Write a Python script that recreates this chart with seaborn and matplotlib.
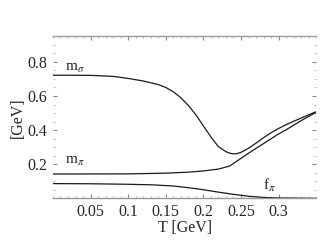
import matplotlib
matplotlib.use("Agg")
import matplotlib.pyplot as plt
import seaborn as sns
import numpy as np
import pandas as pd
from matplotlib.ticker import MultipleLocator

# --- data ---
t_sigma = [0.0, 0.05, 0.08, 0.10, 0.12, 0.14, 0.15, 0.16, 0.17, 0.18, 0.19, 0.20, 0.21, 0.22, 0.23, 0.235, 0.24, 0.245, 0.25, 0.26, 0.27, 0.28, 0.29, 0.30, 0.31, 0.32, 0.33, 0.34, 0.35]
m_sigma = [0.722, 0.721, 0.715, 0.703, 0.688, 0.667, 0.650, 0.625, 0.590, 0.545, 0.490, 0.425, 0.360, 0.303, 0.274, 0.265, 0.261, 0.263, 0.270, 0.294, 0.324, 0.356, 0.385, 0.410, 0.432, 0.452, 0.471, 0.490, 0.508]

t_pi = [0.0, 0.10, 0.15, 0.18, 0.20, 0.22, 0.235, 0.25, 0.26, 0.276, 0.29, 0.30, 0.31, 0.33, 0.35]
m_pi = [0.143, 0.144, 0.148, 0.154, 0.161, 0.172, 0.19, 0.235, 0.265, 0.31, 0.35, 0.378, 0.402, 0.456, 0.505]

t_f = [0.0, 0.05, 0.10, 0.13, 0.16, 0.18, 0.20, 0.22, 0.24, 0.26, 0.28, 0.30, 0.35]
f_pi = [0.087, 0.086, 0.083, 0.080, 0.073, 0.063, 0.051, 0.037, 0.024, 0.013, 0.006, 0.003, 0.001]

x_ticks = [0.05, 0.10, 0.15, 0.20, 0.25, 0.30]
x_ticklabels = ["0.05", "0.1", "0.15", "0.2", "0.25", "0.3"]
y_ticks = [0.2, 0.4, 0.6, 0.8]
y_ticklabels = ["0.2", "0.4", "0.6", "0.8"]

sns.set_style("white")
plt.rcParams["font.family"] = ["Liberation Serif", "DejaVu Serif"]
plt.rcParams["mathtext.fontset"] = "stix"

fig = plt.figure(figsize=(3.27, 2.45), dpi=100)
ax = fig.add_axes([0.162, 0.19, 0.805, 0.662])

line_kw = dict(color="#1a1a1a", linewidth=0.9, estimator=None, sort=False)
sns.lineplot(x=t_sigma, y=m_sigma, ax=ax, **line_kw)
sns.lineplot(x=t_pi, y=m_pi, ax=ax, **line_kw)
sns.lineplot(x=t_f, y=f_pi, ax=ax, **line_kw)

ax.set_xlim(0, 0.35)
ax.set_ylim(0, 0.95)

ax.set_xticks(x_ticks)
ax.set_xticklabels(x_ticklabels)
ax.set_yticks(y_ticks)
ax.set_yticklabels(y_ticklabels)
ax.xaxis.set_minor_locator(MultipleLocator(0.01))
ax.yaxis.set_minor_locator(MultipleLocator(0.05))

ax.tick_params(axis="both", which="major", direction="in", length=3, width=0.8,
               color="#888888", labelsize=11.5, pad=4,
               top=True, right=True, bottom=True, left=True)
ax.tick_params(axis="both", which="minor", direction="in", length=1.5, width=0.6,
               color="#aaaaaa", top=True, right=True, bottom=True, left=True)

for s in ["left", "right"]:
    ax.spines[s].set_visible(False)
for s in ["top", "bottom"]:
    ax.spines[s].set_color("#999999")
    ax.spines[s].set_linewidth(1.0)

ax.set_xlabel("T [GeV]", fontsize=11.5, labelpad=0)
ax.set_ylabel("[GeV]", fontsize=11.5, labelpad=1)

ax.text(0.016, 0.745, r"m$_{\sigma}$", fontsize=11, va="baseline", ha="left")
ax.text(0.016, 0.205, r"m$_{\pi}$", fontsize=11, va="baseline", ha="left")
ax.text(0.279, 0.05, r"f$_{\pi}$", fontsize=11, va="baseline", ha="left")

fig.savefig("out.png", dpi=100)
